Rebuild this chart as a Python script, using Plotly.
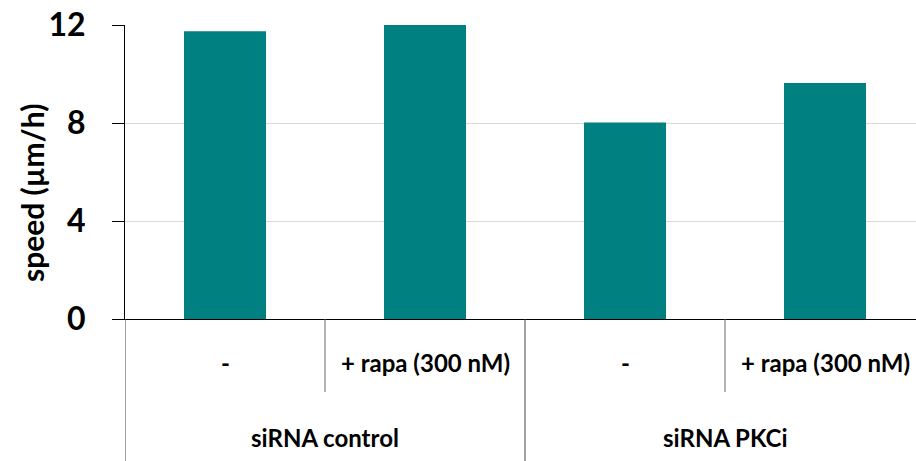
import plotly.graph_objects as go

groups = ["siRNA control", "siRNA PKCi"]
treatments = ["-", "+ rapa (300 nM)", "-", "+ rapa (300 nM)"]
speed = [11.75, 12.0, 8.02, 9.63]
y_ticks = [0, 4, 8, 12]
y_title = "speed (µm/h)"

FONT = "Lato"
FIG_W, FIG_H = 916, 461
M_L, M_T, M_B = 125, 25, 142
PLOT_H = FIG_H - M_T - M_B
PLOT_W = FIG_W - M_L

cats = list(range(len(speed)))

fig = go.Figure(
    go.Bar(
        x=cats,
        y=speed,
        marker=dict(color="#008080", line=dict(width=0)),
        width=0.41,
    )
)

fig.update_layout(
    width=FIG_W,
    height=FIG_H,
    margin=dict(l=M_L, r=0, t=M_T, b=M_B),
    plot_bgcolor="white",
    paper_bgcolor="white",
    showlegend=False,
    font=dict(family=FONT, color="black"),
)

fig.update_xaxes(
    range=[-0.5, 3.455],
    showline=True,
    linecolor="black",
    linewidth=1,
    showticklabels=False,
    ticks="",
    showgrid=False,
    zeroline=False,
    automargin=False,
)

fig.update_yaxes(
    range=[0, 12],
    tickvals=y_ticks,
    ticktext=[str(v) for v in y_ticks],
    showline=True,
    linecolor="black",
    linewidth=1,
    ticks="outside",
    ticklen=12,
    tickcolor="black",
    ticklabelstandoff=20,
    ticklabeloverflow="allow",
    tickfont=dict(family=FONT, size=32, color="black", weight="bold"),
    showgrid=True,
    gridcolor="#d9d9d9",
    gridwidth=1,
    zeroline=False,
    automargin=False,
)

# y-axis title (placed slightly below the plot centre, as in the reference)
fig.add_annotation(x=-(M_L - 32) / PLOT_W, y=(319 - 193) / PLOT_H, xref="paper", yref="paper",
                   text=y_title, textangle=-90, showarrow=False, xanchor="center", yanchor="middle",
                   font=dict(family=FONT, size=30, color="black", weight="bold"))

inner_y = -(362 - 319) / PLOT_H
outer_y = -(437 - 319) / PLOT_H
inner_len = -(392 - 319) / PLOT_H
outer_len = -(461 - 319) / PLOT_H

# inner (treatment) labels
for i, t in enumerate(treatments):
    fig.add_annotation(x=cats[i], y=inner_y, xref="x", yref="paper", text=t, showarrow=False,
                       font=dict(family=FONT, size=24, color="black", weight="bold"), yanchor="middle")

# outer (group) labels
n_per = len(treatments) // len(groups)
for g, name in enumerate(groups):
    center = (cats[g * n_per] + cats[g * n_per + n_per - 1]) / 2
    fig.add_annotation(x=center, y=outer_y, xref="x", yref="paper", text=name, showarrow=False,
                       font=dict(family=FONT, size=24, color="black", weight="bold"), yanchor="middle")

# dividers
for g in range(len(groups)):
    xb = cats[g * n_per] + 0.5
    fig.add_shape(type="line", xref="x", yref="paper", x0=xb, x1=xb, y0=0, y1=inner_len,
                  line=dict(color="#666666", width=1))
for g in range(len(groups) + 1):
    xb = g * n_per - 0.5
    fig.add_shape(type="line", xref="x", yref="paper", x0=xb, x1=xb, y0=0, y1=outer_len,
                  line=dict(color="#444444", width=1))

fig.write_html("out.html", config={"displayModeBar": False},
               post_script="document.body.style.margin='0';")
